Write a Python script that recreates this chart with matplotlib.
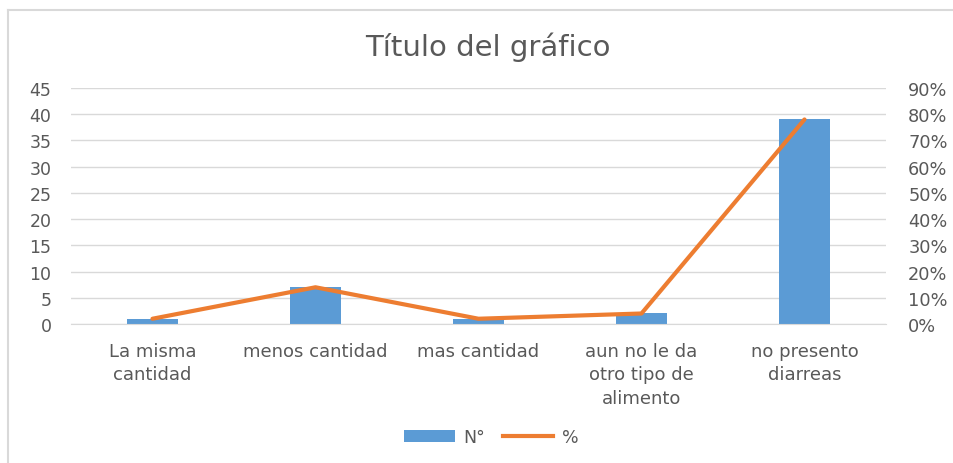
import matplotlib
matplotlib.use("Agg")
import matplotlib.pyplot as plt
from matplotlib.lines import Line2D
from matplotlib.patches import Patch
import numpy as np

categories = ["La misma\ncantidad", "menos cantidad", "mas cantidad",
              "aun no le da\notro tipo de\nalimento", "no presento\ndiarreas"]
counts = [1, 7, 1, 2, 39]
percents = [0.02, 0.14, 0.02, 0.04, 0.78]
left_ticks = [0, 5, 10, 15, 20, 25, 30, 35, 40, 45]
right_ticks = [0.0, 0.1, 0.2, 0.3, 0.4, 0.5, 0.6, 0.7, 0.8, 0.9]
title = "Título del gráfico"

FONT = "DejaVu Sans"
GRAY = "#595959"
BLUE = "#5B9BD5"
ORANGE = "#ED7D31"
GRID = "#D9D9D9"

fig = plt.figure(figsize=(9.54, 4.64), dpi=100)
ax = fig.add_axes([0.0744, 0.2996, 0.8543, 0.5086])
ax2 = ax.twinx()

x = np.arange(len(categories))
ax.bar(x, counts, width=0.31, color=BLUE, zorder=2)
ax.set_xlim(-0.5, len(categories) - 0.5)
ax.set_ylim(0, 45)
ax.set_yticks(left_ticks)
ax.set_yticklabels([str(t) for t in left_ticks], fontsize=12.5, color=GRAY, family=FONT)
ax.yaxis.grid(True, color=GRID, linewidth=1)
ax.set_axisbelow(True)
ax.set_xticks(x)
ax.set_xticklabels(categories, fontsize=13, color=GRAY, family=FONT, linespacing=1.38)
ax.tick_params(axis="x", length=0, pad=13)
ax.tick_params(axis="y", length=0, pad=14)

ax2.plot(x, percents, color=ORANGE, linewidth=3, solid_capstyle="round", zorder=3)
ax2.set_ylim(0, 0.9)
ax2.set_yticks(right_ticks)
ax2.set_yticklabels([f"{int(round(t*100))}%" for t in right_ticks], fontsize=12.8, color=GRAY, family=FONT)
ax2.tick_params(axis="y", length=0, pad=16)

for a in (ax, ax2):
    for s in a.spines.values():
        s.set_visible(False)
ax.spines["bottom"].set_visible(True)
ax.spines["bottom"].set_color(GRID)

fig.text(0.511, 0.898, title, ha="center", va="center", fontsize=21, color=GRAY, family=FONT)

handles = [Patch(facecolor=BLUE, edgecolor="none"),
           Line2D([0], [0], color=ORANGE, linewidth=3)]
fig.legend(handles, ["N°", "%"], loc="center", bbox_to_anchor=(0.515, 0.056), ncol=2,
           frameon=False, prop={"family": FONT, "size": 12.5}, labelcolor=GRAY,
           handlelength=2.9, handleheight=0.7, columnspacing=1.0, handletextpad=0.5)

# chart border (left and top edges visible)
fig.add_artist(Line2D([0.0089, 0.0089], [0.0, 0.977], color="#D9D9D9", linewidth=1.5, transform=fig.transFigure))
fig.add_artist(Line2D([0.0089, 1.0], [0.977, 0.977], color="#D9D9D9", linewidth=1.5, transform=fig.transFigure))

fig.savefig("out.png", dpi=100)
